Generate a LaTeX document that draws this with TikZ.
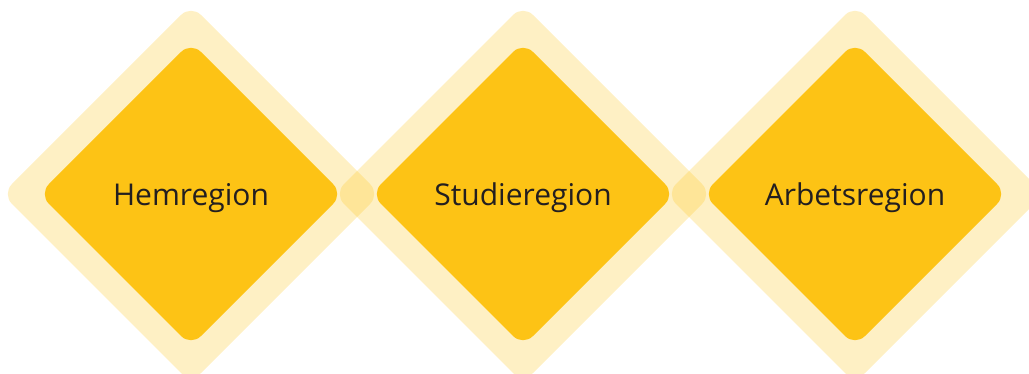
\documentclass[tikz,border=0pt]{standalone}
\usepackage{fontspec}
\setmainfont{Open Sans}
\definecolor{regyellow}{RGB}{253,195,21}
\definecolor{regtext}{RGB}{35,31,32}
\tikzset{
  outerdia/.style={fill=regyellow,fill opacity=0.25,rounded corners=14pt},
  innerdia/.style={fill=regyellow,rounded corners=14pt},
  regname/.style={text=regtext,anchor=base,font=\fontsize{30}{30}\selectfont}
}
\begin{document}
\begin{tikzpicture}[x=1pt,y=-1pt]
    \useasboundingbox (0,0) rectangle (1029,374);
    % pale diamonds
    \foreach \x in {191,523,855}
      \fill[outerdia] (\x,194) +(-189,0) -- +(0,-189) -- +(189,0) -- +(0,189) -- cycle;
    % solid diamonds
    \foreach \x in {191,523,855}
      \fill[innerdia] (\x,194) +(-152,0) -- +(0,-152) -- +(152,0) -- +(0,152) -- cycle;
    % names
    \node[regname] (hem) at (191,206) {Hemregion};
    \node[regname] (stud) at (523,206) {Studieregion};
    \node[regname] (arb) at (855,206) {Arbetsregion};
\end{tikzpicture}
\end{document}
